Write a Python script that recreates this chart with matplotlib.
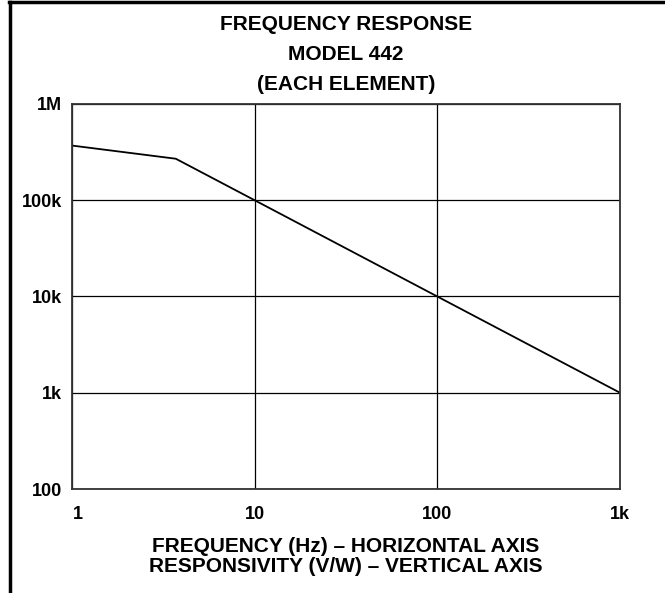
import matplotlib
matplotlib.use("Agg")
import matplotlib.pyplot as plt
import matplotlib.transforms as mtransforms
from matplotlib.lines import Line2D

plt.rcParams['font.family'] = ['Liberation Sans', 'DejaVu Sans']
plt.rcParams['font.weight'] = 'bold'

# Data
freq_hz = [1, 3.7, 10, 100, 1000]
responsivity = [370000, 270000, 100000, 10000, 1000]
x_ticks = [1, 10, 100, 1000]
x_tick_labels = ["1", "10", "100", "1k"]
y_ticks = [100, 1000, 10000, 100000, 1000000]
y_tick_labels = ["100", "1k", "10k", "100k", "1M"]
title_lines = ["FREQUENCY RESPONSE", "MODEL 442", "(EACH ELEMENT)"]
axis_caption = ["FREQUENCY (Hz) \u2013 HORIZONTAL AXIS", "RESPONSIVITY (V/W) \u2013 VERTICAL AXIS"]

W, H = 665, 593
fig = plt.figure(figsize=(W / 100, H / 100), dpi=100)
fig.patch.set_facecolor('white')

left, right, top, bottom = 72, 620, 104, 489
ax = fig.add_axes([left / W, (H - bottom) / H, (right - left) / W, (bottom - top) / H])
ax.set_xscale('log')
ax.set_yscale('log')
ax.set_xlim(1, 1000)
ax.set_ylim(100, 1000000)
ax.plot(freq_hz, responsivity, color='black', lw=1.3, solid_joinstyle='miter')

ax.set_xticks(x_ticks)
ax.set_xticklabels(x_tick_labels)
ax.set_yticks(y_ticks)
ax.set_yticklabels(y_tick_labels)
ax.minorticks_off()
ax.tick_params(axis='both', length=0, labelsize=13)
ax.tick_params(axis='x', pad=12)
ax.tick_params(axis='y', pad=7)
for lbl in ax.get_xticklabels() + ax.get_yticklabels():
    lbl.set_fontweight('bold')
first = ax.get_xticklabels()[0]
first.set_transform(first.get_transform() + mtransforms.ScaledTranslation(6 / 100, 0, fig.dpi_scale_trans))
ax.grid(True, color='black', lw=0.9)
for s in ax.spines.values():
    s.set_color('#333333')
    s.set_linewidth(1.3)

ys = [24, 55, 84]
for t, y in zip(title_lines, ys):
    fig.text((left + right) / 2 / W, 1 - y / H, t, ha='center', va='center',
             fontsize=15, fontweight='bold')
for t, y in zip(axis_caption, [546, 567]):
    fig.text((left + right) / 2 / W, 1 - y / H, t, ha='center', va='center',
             fontsize=15, fontweight='bold')

# outer frame
fig.add_artist(Line2D([9 / W, 1], [1 - 1.5 / H, 1 - 1.5 / H], color='black', lw=2.5,
                      transform=fig.transFigure))
fig.add_artist(Line2D([10 / W, 10 / W], [0, 1 - 1.5 / H], color='black', lw=2.5,
                      transform=fig.transFigure))

fig.savefig('out.png', dpi=100, facecolor='white')
